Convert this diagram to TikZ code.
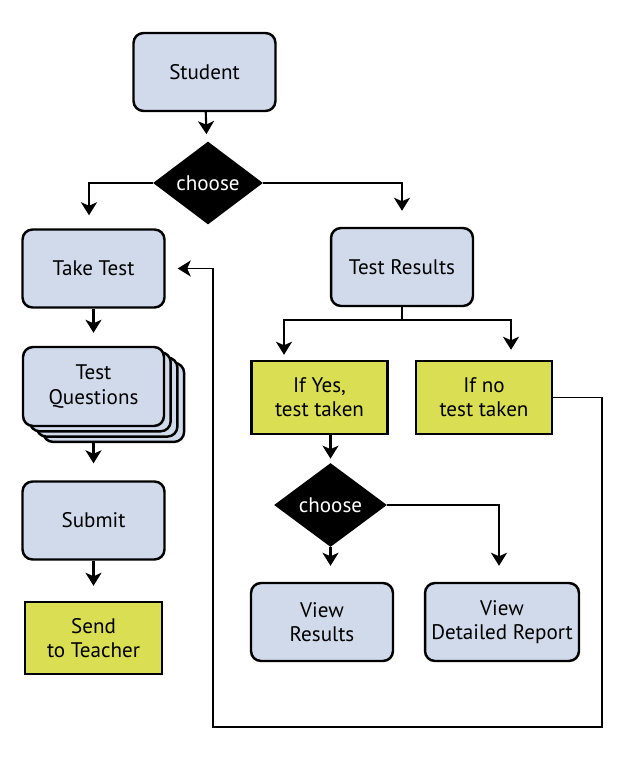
\documentclass[tikz,border=0pt]{standalone}
\usepackage{fontspec}
\setmainfont{PT Sans}
\usetikzlibrary{shapes.geometric,arrows.meta}

\definecolor{boxblue}{RGB}{208,218,235}
\definecolor{boxlime}{RGB}{217,222,82}

\tikzset{
	bluebox/.style={draw, line width=1.4pt, fill=boxblue, rounded corners=0.2cm,
		minimum width=2.84cm, minimum height=1.56cm, align=center},
	limebox/.style={draw, line width=1.4pt, fill=boxlime,
		minimum width=2.72cm, minimum height=1.46cm, align=center},
	decide/.style={diamond, fill=black, text=white, inner sep=0pt,
		minimum width=2.2cm, minimum height=1.66cm},
	conn/.style={line width=1.2pt},
	arr/.style={conn, -{Stealth[length=0.26cm,width=0.32cm,inset=0.07cm]}, shorten >=0.26cm},
	loopline/.style={line width=1pt}
}

\begin{document}
\begin{tikzpicture}[x=0.02cm, y=-0.02cm, font=\fontsize{12}{13.8}\selectfont]
	\useasboundingbox (0,0) rectangle (634,766);

	% left column
	\node[bluebox] (student) at (204.5,72) {Student};
	\node[decide] (choose) at (208,183) {choose};
	\node[bluebox] (taketest) at (93.5,268.5) {Take Test};
	\foreach \d in {3,2,1}
		\node[bluebox, minimum width=2.82cm, minimum height=1.58cm] at (93.5+\d*6.7,386.5+\d*5.3) {};
	\node[bluebox, minimum width=2.82cm, minimum height=1.58cm] (questions) at (93.5,386.5) {Test\\Questions};
	\node[bluebox] (submit) at (93.5,520.5) {Submit};
	\node[limebox, minimum width=2.74cm, minimum height=1.44cm] (send) at (93.5,638) {Send\\to Teacher};

	% right column
	\node[bluebox] (results) at (402,267) {Test Results};
	\node[limebox] (yes) at (319.5,397.5) {If Yes,\\test taken};
	\node[limebox] (no) at (484,397.5) {If no\\test taken};
	\node[decide, minimum width=2.26cm, minimum height=1.68cm] (choosetwo) at (330.5,505) {choose};
	\node[bluebox] (viewres) at (322,622) {View\\Results};
	\node[bluebox, minimum width=3.08cm] (viewrep) at (502,622) {View\\Detailed Report};

	\coordinate (fork) at (402,320);
	\coordinate (forkl) at (284,320);
	\coordinate (forkr) at (511,320);
	\coordinate (loopa) at (602,727);
	\coordinate (loopb) at (213,727);

	% connectors
	\draw[arr, shorten >=0.16cm] (student) -- (choose);
	\draw[arr] (choose.west) -| ([xshift=-0.09cm]taketest.north);
	\draw[arr, shorten >=0.32cm] (choose.east) -| (results.north);
	\draw[arr] (taketest) -- (questions);
	\draw[arr, shorten >=0.34cm] ([yshift=-0.32cm]questions.south) -- (submit.north);
	\draw[arr, shorten >=0.3cm] (submit) -- (send);

	\draw[conn] (results.south) -- (fork);
	\draw[arr, shorten >=0.1cm] (fork) -- (forkl) -- (forkl |- yes.north);
	\draw[arr, shorten >=0.2cm] (fork) -- (forkr) -- (forkr |- no.north);
	\draw[arr, shorten >=0.08cm] (choosetwo.north |- yes.south) -- (choosetwo.north);
	\draw[arr, shorten >=0.32cm] (choosetwo.south) -- (choosetwo.south |- viewres.north);
	\draw[arr, shorten >=0.32cm] (choosetwo.east) -| ([xshift=-0.06cm]viewrep.north);

	% back to the test
	\draw[loopline, -{Stealth[length=0.26cm,width=0.32cm,inset=0.07cm]}, shorten >=0.24cm]
		(no.east) -| (loopa) -- (loopb) |- (taketest.east);
\end{tikzpicture}
\end{document}
